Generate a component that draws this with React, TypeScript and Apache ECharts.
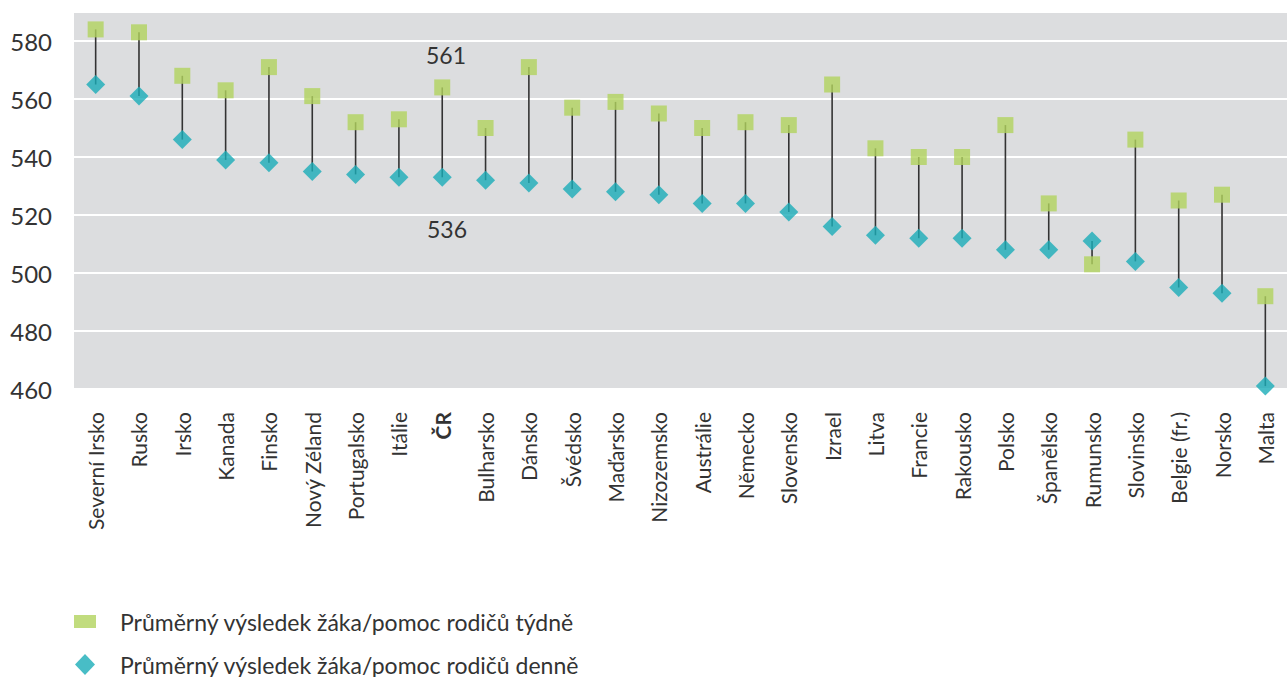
import React, { useEffect, useRef } from "react";
import * as echarts from "echarts";

const categories = [
  "Severní Irsko", "Rusko", "Irsko", "Kanada", "Finsko", "Nový Zéland", "Portugalsko", "Itálie", "ČR",
  "Bulharsko", "Dánsko", "Švédsko", "Maďarsko", "Nizozemsko", "Austrálie", "Německo", "Slovensko", "Izrael",
  "Litva", "Francie", "Rakousko", "Polsko", "Španělsko", "Rumunsko", "Slovinsko", "Belgie (fr.)", "Norsko", "Malta",
];

const weekly = [
  584, 583, 568, 563, 571, 561, 552, 553, 564,
  550, 571, 557, 559, 555, 550, 552, 551, 565,
  543, 540, 540, 551, 524, 503, 546, 525, 527, 492,
];

const daily = [
  565, 561, 546, 539, 538, 535, 534, 533, 533,
  532, 531, 529, 528, 527, 524, 524, 521, 516,
  513, 512, 512, 508, 508, 511, 504, 495, 493, 461,
];

const yTicks = { min: 460, max: 590, interval: 20 };
const weeklyName = "Průměrný výsledek žáka/pomoc rodičů týdně";
const dailyName = "Průměrný výsledek žáka/pomoc rodičů denně";
const annotations = [
  { text: "561", x: 446, y: 55 },
  { text: "536", x: 447, y: 229 },
];

const FONT = "Lato, 'Noto Sans', sans-serif";

export default function App() {
  const ref = useRef<HTMLDivElement>(null);
  useEffect(() => {
    if (!ref.current) return;
    const chart = echarts.init(ref.current, undefined, { renderer: "svg" });
    const rangeData = categories.map((c, i) => [i, weekly[i], daily[i]]);
    chart.setOption({
      animation: false,
      textStyle: { fontFamily: FONT },
      grid: {
        left: 74,
        right: -10,
        top: 12,
        bottom: 288,
        show: true,
        backgroundColor: "#dcdddf",
        borderWidth: 0,
      },
      legend: [
        {
          data: [{ name: weeklyName, icon: "rect" }],
          left: 69,
          top: 605,
          itemWidth: 22,
          itemHeight: 13,
          textStyle: { fontSize: 23, color: "#333", fontFamily: FONT, padding: [0, 0, 0, 19] },
          selectedMode: false,
        },
        {
          data: [{ name: dailyName, icon: "diamond" }],
          left: 70,
          top: 648,
          itemWidth: 20,
          itemHeight: 21,
          textStyle: { fontSize: 23, color: "#333", fontFamily: FONT, padding: [0, 0, 0, 20] },
          selectedMode: false,
        },
      ],
      xAxis: {
        type: "category",
        data: categories,
        boundaryGap: true,
        axisLine: { show: false },
        axisTick: { show: false },
        axisLabel: {
          rotate: 90,
          interval: 0,
          margin: 23,
          fontSize: 21,
          color: "#333",
          fontFamily: FONT,
          formatter: (v: string) => (v === "ČR" ? "{b|" + v + "}" : v),
          rich: { b: { fontWeight: "bold", fontSize: 21, color: "#333", fontFamily: FONT } },
        },
      },
      yAxis: {
        type: "value",
        min: yTicks.min,
        max: yTicks.max,
        interval: yTicks.interval,
        axisLine: { show: false },
        axisTick: { show: false },
        axisLabel: {
          fontSize: 24,
          color: "#333",
          margin: 22,
          fontFamily: FONT,
          showMaxLabel: false,
        },
        splitLine: { lineStyle: { color: "#ffffff", width: 2 } },
      },
      series: [
        {
          type: "custom",
          name: "range",
          data: rangeData,
          encode: { x: 0, y: [1, 2] },
          z: 1,
          renderItem: (params: any, api: any) => {
            const x = api.value(0);
            const p1 = api.coord([x, api.value(1)]);
            const p2 = api.coord([x, api.value(2)]);
            return {
              type: "line",
              shape: { x1: p1[0], y1: p1[1], x2: p2[0], y2: p2[1] },
              style: { stroke: "#333333", lineWidth: 1.6 },
            };
          },
        },
        {
          type: "scatter",
          name: weeklyName,
          data: weekly,
          symbol: "rect",
          symbolSize: 16,
          itemStyle: { color: "#b2d35e" },
          z: 3,
        },
        {
          type: "scatter",
          name: dailyName,
          data: daily,
          symbol: "diamond",
          symbolSize: 19,
          itemStyle: { color: "#1aacb8" },
          z: 4,
        },
      ],
      graphic: annotations.map((a) => ({
        type: "text",
        x: a.x,
        y: a.y,
        style: {
          text: a.text,
          fontSize: 23,
          fill: "#333",
          fontFamily: FONT,
          align: "center",
          verticalAlign: "middle",
        },
      })),
    });
    return () => chart.dispose();
  }, []);
  return (
    <div
      ref={ref}
      style={{ position: "absolute", left: 0, top: 0, width: 1287, height: 677 }}
    />
  );
}
